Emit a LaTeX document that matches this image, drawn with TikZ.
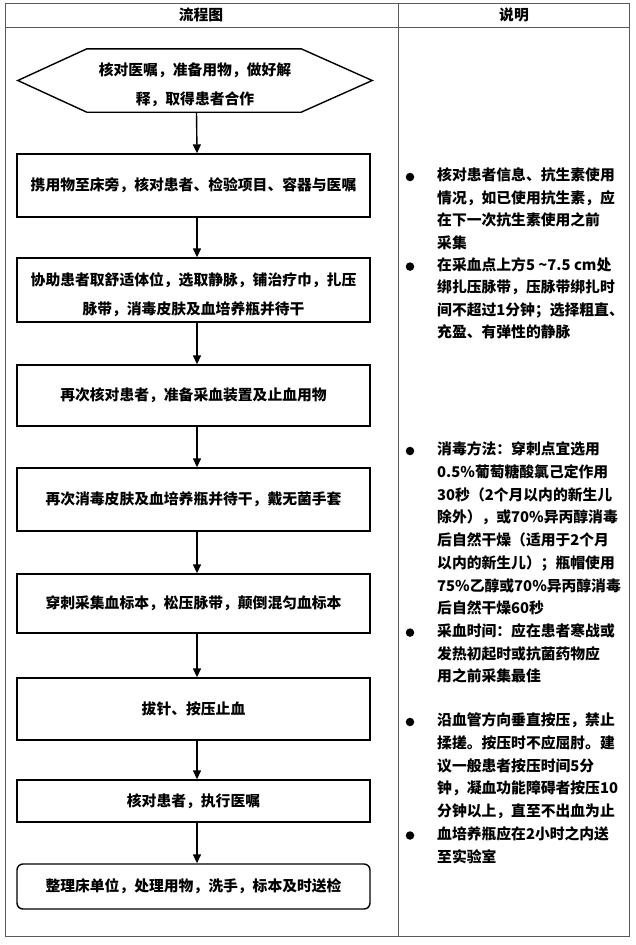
\documentclass[tikz,border=0pt]{standalone}
\usepackage{fontspec}
\setmainfont{Noto Sans CJK SC}
\usetikzlibrary{arrows.meta}
\newcommand\twolines[2]{\raisebox{-4pt}[\height][\depth]{\begin{tabular}{@{}c@{}}#1\\#2\end{tabular}}}
\begin{document}
\begin{tikzpicture}[x=1pt,y=-1pt,
  every node/.style={font=\fontsize{14.8}{28.6}\selectfont\bfseries},
  tbl/.style={draw=black!65, line width=0.8pt},
  stepbox/.style={draw, line width=1.4pt, minimum width=353pt, inner sep=0pt, align=center},
  flow/.style={line width=1.4pt, -{Triangle[length=9pt,width=8pt]}},
  ln/.style={anchor=west, inner sep=0pt, text height=0.88em, text depth=0.12em},
  dot/.style={circle, fill=black, inner sep=0pt, minimum size=8.5pt},
]
\useasboundingbox (0,0) rectangle (635,945);
% table
\draw[tbl] (5,3) rectangle (629,936);
\draw[tbl] (5,27) -- (629,27);
\draw[tbl] (398,3) -- (398,936);
\node (h1) at (201,15) {流程图};
\node (h2) at (514,15) {说明};

% hexagon start
\node[minimum width=354pt, minimum height=63pt, inner sep=0pt] (hex) at (195,80.5)
  {\twolines{核对医嘱，准备用物，做好解}{释，取得患者合作}};
\draw[line width=1.4pt, line join=miter] (hex.west) -- ([xshift=69pt]hex.north west) -- ([xshift=-71pt]hex.north east)
  -- (hex.east) -- ([xshift=-71pt]hex.south east) -- ([xshift=69pt]hex.south west) -- cycle;

% steps
\node[stepbox, minimum height=63pt] (b1) at (193.5,185.5) {携用物至床旁，核对患者、检验项目、容器与医嘱};
\node[stepbox, minimum height=64pt] (b2) at (193.5,290) {\twolines{协助患者取舒适体位，选取静脉，铺治疗巾，扎压}{脉带，消毒皮肤及血培养瓶并待干}};
\node[stepbox, minimum height=61pt] (b3) at (193.5,395.5) {再次核对患者，准备采血装置及止血用物};
\node[stepbox, minimum height=63pt] (b4) at (193.5,499.5) {再次消毒皮肤及血培养瓶并待干，戴无菌手套};
\node[stepbox, minimum height=59pt] (b5) at (193.5,603.5) {穿刺采集血标本，松压脉带，颠倒混匀血标本};
\node[stepbox, minimum height=62pt] (b6) at (193.5,709) {拔针、按压止血};
\node[stepbox, minimum height=42pt] (b7) at (193.5,801) {核对患者，执行医嘱};
\node[stepbox, minimum height=45pt, rounded corners=6pt] (b8) at (193.5,886.5) {整理床单位，处理用物，洗手，标本及时送检};

% arrows
\draw[flow] ([xshift=1.5pt]hex.south) -- ([xshift=3.5pt]b1.north);
\draw[flow] ([xshift=3.5pt]b1.south) -- ([xshift=3.5pt]b2.north);
\draw[flow] ([xshift=3.5pt]b2.south) -- ([xshift=3.5pt]b3.north);
\draw[flow] ([xshift=3.5pt]b3.south) -- ([xshift=3.5pt]b4.north);
\draw[flow] ([xshift=3.5pt]b4.south) -- ([xshift=3.5pt]b5.north);
\draw[flow] ([xshift=3.5pt]b5.south) -- ([xshift=3.5pt]b6.north);
\draw[flow] ([xshift=3.5pt]b6.south) -- ([xshift=3.5pt]b7.north);
\draw[flow] ([xshift=3.5pt]b7.south) -- ([xshift=3.5pt]b8.north);

% notes, group A
\foreach \t [count=\i] in {核对患者信息、抗生素使用, 情况，如已使用抗生素，应, 在下一次抗生素使用之前, 采集,
  在采血点上方5 \textasciitilde7.5 cm处, 绑扎压脉带，压脉带绑扎时, 间不超过1分钟；选择粗直、, 充盈、有弹性的静脉}
  \node[ln] (a\i) at (437,{177+(\i-1)*22.4}) {\t};
\node[dot] (da1) at (410,177) {};
\node[dot] (da2) at (410,{177+4*22.4}) {};

% group B
\foreach \t [count=\i] in {消毒方法：穿刺点宜选用, 0.5\%葡萄糖酸氯己定作用, 30秒（2个月以内的新生儿,
  除外），或70\%异丙醇消毒, 后自然干燥（适用于2个月, 以内的新生儿）；瓶帽使用,
  75\%乙醇或70\%异丙醇消毒, 后自然干燥60秒, 采血时间：应在患者寒战或, 发热初起时或抗菌药物应, 用之前采集最佳}
  \node[ln] (c\i) at (437,{451+(\i-1)*22.7}) {\t};
\node[dot] (db1) at (410,451) {};
\node[dot] (db2) at (410,{451+8*22.7}) {};

% group C
\foreach \t [count=\i] in {沿血管方向垂直按压，禁止, 揉搓。按压时不应屈肘。建, 议一般患者按压时间5分,
  钟，凝血功能障碍者按压10, 分钟以上，直至不出血为止, 血培养瓶应在2小时之内送, 至实验室}
  \node[ln] (e\i) at (437,{722+(\i-1)*22.7}) {\t};
\node[dot] (dc1) at (410,722) {};
\node[dot] (dc2) at (410,{722+5*22.7}) {};
\end{tikzpicture}
\end{document}
